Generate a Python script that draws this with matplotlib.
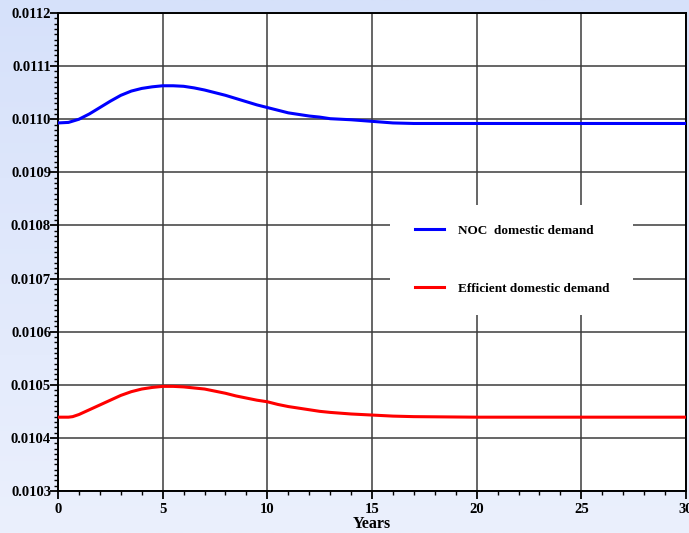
import numpy as np
import matplotlib.pyplot as plt
from matplotlib.colors import LinearSegmentedColormap
from matplotlib.patches import Rectangle
from matplotlib.ticker import MultipleLocator

years_noc = [0, 0.5, 1, 1.5, 2, 2.5, 3, 3.5, 4, 4.5, 5, 5.5, 6, 6.5, 7, 7.5, 8, 8.5, 9, 9.5,
             10, 10.5, 11, 11.5, 12, 12.5, 13, 13.5, 14, 15, 16, 17, 20, 25, 30]
noc_demand = [0.010993, 0.010994, 0.011000, 0.011010, 0.011022, 0.011034, 0.011045, 0.011053,
              0.011058, 0.011061, 0.011063, 0.011063, 0.011062, 0.011059, 0.011055, 0.011050,
              0.011045, 0.011039, 0.011033, 0.011027, 0.011022, 0.011017, 0.011012, 0.011009,
              0.011006, 0.011004, 0.011001, 0.011000, 0.010999, 0.010996, 0.010993, 0.010992,
              0.010992, 0.010992, 0.010992]

years_eff = [0, 0.5, 0.7, 1, 1.5, 2, 2.5, 3, 3.5, 4, 4.5, 5, 5.5, 6, 6.5, 7, 7.5, 8, 8.5, 9,
             9.5, 10, 10.5, 11, 11.5, 12, 12.5, 13, 14, 15, 16, 17, 20, 25, 30]
eff_demand = [0.010439, 0.010439, 0.010440, 0.010444, 0.010453, 0.010462, 0.010471, 0.010480,
              0.010487, 0.010492, 0.010495, 0.010497, 0.010497, 0.010496, 0.010494, 0.010492,
              0.010488, 0.010484, 0.010479, 0.010475, 0.010471, 0.010468, 0.010463, 0.010459,
              0.010456, 0.010453, 0.010450, 0.010448, 0.010445, 0.010443, 0.010441, 0.010440,
              0.010439, 0.010439, 0.010439]

plt.rcParams['font.family'] = 'Liberation Serif'
plt.rcParams['font.weight'] = 'bold'

fig = plt.figure(figsize=(6.89, 5.33), dpi=100)

# light blue gradient background behind everything
bg = fig.add_axes([0, 0, 1, 1], zorder=-10)
grad = np.linspace(0, 1, 256).reshape(-1, 1)
bg.imshow(grad, aspect='auto', extent=[0, 1, 0, 1],
          cmap=LinearSegmentedColormap.from_list('bgc', ['#d6e1fa', '#ebf0fd']))
bg.axis('off')

ax = fig.add_axes([0.0842, 0.0788, 0.9115, 0.8968])
ax.set_facecolor('white')

ax.plot(years_noc, noc_demand, color='#0000ff', lw=2.2, label='NOC  domestic demand', zorder=3)
ax.plot(years_eff, eff_demand, color='#ff0000', lw=2.2, label='Efficient domestic demand', zorder=3)

ax.set_xlim(0, 30)
ax.set_ylim(0.0103, 0.0112)
ax.xaxis.set_major_locator(MultipleLocator(5))
ax.xaxis.set_minor_locator(MultipleLocator(1))
ax.yaxis.set_major_locator(MultipleLocator(0.0001))
ax.yaxis.set_minor_locator(MultipleLocator(0.00001))
ax.yaxis.set_major_formatter(plt.FuncFormatter(lambda v, p: f'{v:.4f}'))

ax.tick_params(which='major', direction='out', length=6, width=1.3, labelsize=10.5)
ax.tick_params(which='minor', direction='out', length=3, width=1.0)
ax.tick_params(axis='y', pad=-1)
ax.tick_params(axis='x', pad=3)

ax.grid(axis='both', which='major', color='#3c3c3c', lw=1.1, zorder=1)
ax.set_axisbelow(True)
for s in ax.spines.values():
    s.set_linewidth(1.4)
    s.set_color('black')

ax.set_xlabel('Years', fontsize=11.5, fontweight='bold', va='bottom')
ax.xaxis.set_label_coords(0.5, -0.086)

# white legend box covering the grid
ax.add_patch(Rectangle((0.529, 0.368), 0.387, 0.230, transform=ax.transAxes,
                       facecolor='white', edgecolor='none', zorder=2))
ax.legend(loc='center left', bbox_to_anchor=(0.55, 0.484), frameon=False,
          prop={'weight': 'bold', 'size': 9.5}, handlelength=2.2, handletextpad=1.0,
          labelspacing=3.45)

fig.savefig('out.png', dpi=100)
